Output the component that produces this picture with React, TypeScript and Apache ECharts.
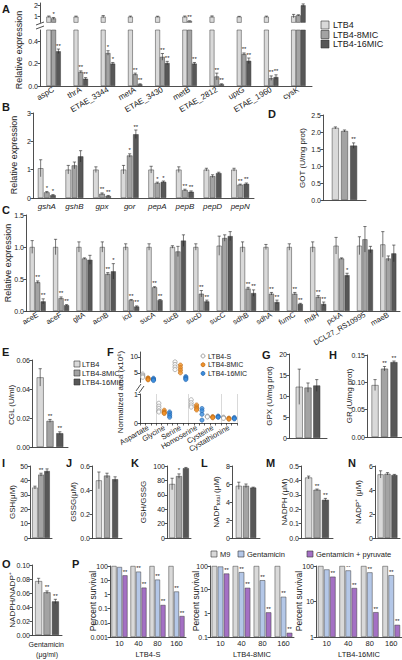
import React, { useEffect, useRef } from 'react';
import * as echarts from 'echarts';

const FONT = '"Liberation Sans", Arial, Helvetica, sans-serif';
const AX = '#222222';

// ---------- names ----------
const strainNames = ['LTB4', 'LTB4-8MIC', 'LTB4-16MIC'];
const fStrainNames = ['LTB4-S', 'LTB4-8MIC', 'LTB4-16MIC'];
const pTreatNames = ['M9', 'Gentamicin', 'Gentamicin + pyruvate'];
const grayColors = ['#d9d9d9', '#a3a3a3', '#575757'];
const pColors = ['#d9d9d9', '#b4c7e7', '#a470c4'];
const fColors = ['#ffffff', '#f0922b', '#3b8ddc'];

// ---------- Panel A ----------
const aGenes = ['aspC', 'thrA', 'ETAE_3344', 'metA', 'ETAE_3430', 'metB', 'ETAE_2812', 'uptG', 'ETAE_1960', 'cysK'];
const aLTB4 = [1.0, 1.0, 1.0, 1.0, 1.0, 1.0, 1.0, 1.0, 1.0, 1.05];
const aM8 = [0.85, 0.125, 0.295, 0.105, 0.26, 0.62, 0.085, 0.285, 0.07, 1.12];
const aM16 = [0.31, 0.065, 0.2, 0.015, 0.205, 0.2, 0.015, 0.225, 0.08, 2.0];
const aLTB4Err = [0.06, 0.05, 0.1, 0.05, 0.04, 0.06, 0.07, 0.03, 0.05, 0.15];
const aM8Err = [0.08, 0.01, 0.02, 0.01, 0.03, 0.02, 0.03, 0.01, 0.02, 0.05];
const aM16Err = [0.02, 0.01, 0.01, 0.005, 0.015, 0.01, 0.005, 0.025, 0.02, 0.12];
const aM8Sig = ['*', '**', '*', '**', '**', '**', '**', '**', '**', ''];
const aM16Sig = ['**', '**', '*', '**', '**', '**', '**', '**', '**', ''];

// ---------- Panel B ----------
const bGenes = ['gshA', 'gshB', 'gpx', 'gor', 'pepA', 'pepB', 'pepD', 'pepN'];
const bLTB4 = [1.05, 1.0, 1.0, 1.0, 1.0, 1.0, 1.0, 1.0];
const bM8 = [0.2, 1.15, 0.15, 1.5, 0.53, 0.28, 0.77, 0.47];
const bM16 = [0.1, 1.47, 0.07, 2.25, 0.57, 0.22, 0.88, 0.5];
const bLTB4Err = [0.3, 0.15, 0.1, 0.15, 0.12, 0.1, 0.05, 0.05];
const bM8Err = [0.03, 0.12, 0.03, 0.06, 0.03, 0.03, 0.05, 0.02];
const bM16Err = [0.02, 0.2, 0.02, 0.15, 0.03, 0.03, 0.03, 0.03];
const bM8Sig = ['*', '', '**', '*', '*', '**', '', '**'];
const bM16Sig = ['*', '', '**', '**', '*', '**', '', '**'];

// ---------- Panel C ----------
const cGenes = ['aceE', 'aceF', 'gltA', 'acnB', 'icd', 'sucA', 'sucB', 'sucD', 'sucC', 'sdhB', 'sdhA', 'fumC', 'mdH', 'pckA', 'DCL27_RS10995', 'maeB'];
const cLTB4 = [1, 1, 1, 1, 1, 1, 1, 1, 1.02, 1, 1, 1, 1, 1.02, 1.02, 1.04];
const cM8 = [0.45, 0.2, 0.82, 0.58, 0.17, 0.37, 0.93, 0.27, 1.14, 0.35, 0.27, 0.27, 0.22, 0.82, 1.12, 0.82];
const cM16 = [0.15, 0.09, 0.8, 0.62, 0.07, 0.17, 1.1, 0.15, 1.17, 0.28, 0.14, 0.11, 0.11, 0.56, 0.96, 0.9];
const cLTB4Err = [0.1, 0.12, 0.08, 0.08, 0.05, 0.05, 0.02, 0.05, 0.15, 0.08, 0.04, 0.05, 0.08, 0.13, 0.14, 0.2];
const cM8Err = [0.02, 0.02, 0.01, 0.02, 0.01, 0.01, 0.08, 0.05, 0.05, 0.02, 0.02, 0.02, 0.02, 0.01, 0.2, 0.04];
const cM16Err = [0.04, 0.01, 0.07, 0.12, 0.01, 0.01, 0.09, 0.02, 0.07, 0.05, 0.03, 0.01, 0.03, 0.03, 0.05, 0.13];
const cM8Sig = ['**', '**', '', '**', '**', '**', '', '**', '', '**', '**', '**', '**', '', '', ''];
const cM16Sig = ['**', '**', '', '*', '**', '**', '', '**', '', '**', '**', '**', '**', '*', '', ''];

// ---------- Single-category panels (LTB4, 8MIC, 16MIC) ----------
const dGOT = [2.12, 2.03, 1.6];
const dGOTErr = [0.03, 0.03, 0.08];
const eCGL = [0.048, 0.018, 0.0095];
const eCGLErr = [0.006, 0.001, 0.001];
const gGPX = [12.2, 12.0, 12.5];
const gGPXErr = [4.2, 1.1, 1.4];
const hGR = [0.095, 0.125, 0.137];
const hGRErr = [0.01, 0.004, 0.002];
const iGSH = [35, 44, 46.5];
const iGSHErr = [1, 1, 1.5];
const jGSSG = [0.48, 0.52, 0.49];
const jGSSGErr = [0.07, 0.02, 0.02];
const kRatio = [75, 86, 97];
const kRatioErr = [8, 3, 1];
const lNADPt = [5.8, 5.8, 5.6];
const lNADPtErr = [0.4, 0.2, 0.05];
const mNADPH = [0.42, 0.335, 0.265];
const mNADPHErr = [0.01, 0.005, 0.01];
const nNADP = [5.3, 5.35, 5.25];
const nNADPErr = [0.3, 0.1, 0.05];
const oRatio = [0.077, 0.061, 0.048];
const oRatioErr = [0.004, 0.002, 0.003];
const sig3 = ['', '**', '**'];
const sig3b = ['', '*', '**'];
const sig3c = ['', '', '**'];

// ---------- Panel F ----------
const fGroups = ['Aspartate', 'Glycine', 'Serine', 'Homoserine', 'Cysteine', 'Cystathionine'];
const fS = [[4.6, 4.2, 3.9, 3.6], [0.68, 0.58, 0.5, 0.42, 0.38], [8.4, 7.6, 6.8, 6.0], [0.8, 0.7, 0.62, 0.55], [0.24, 0.22, 0.21], [0.2, 0.18, 0.16]];
const f8 = [[3.4, 3.2, 3.0, 2.8], [0.44, 0.38, 0.35, 0.33], [7.4, 6.6, 5.8, 5.0], [0.62, 0.55, 0.5, 0.45], [0.22, 0.2, 0.18], [0.17, 0.15, 0.13]];
const f16 = [[3.3, 3.0, 2.8, 2.6], [0.38, 0.32, 0.26, 0.2], [3.8, 3.5, 3.2, 2.9], [0.5, 0.42, 0.3, 0.1], [0.24, 0.21, 0.2], [0.19, 0.16, 0.14]];

// ---------- Panel P ----------
const pDoses = ['10', '40', '80', '160'];
const pS_M9 = [100, 100, 100, 100];
const pS_Gen = [85, 40, 11, 1.6];
const pS_Pyr = [22, 3, 0.18, 0.03];
const p8_M9 = [100, 100, 100, 100];
const p8_Gen = [95, 55, 25, 5];
const p8_Pyr = [48, 12, 1.1, 0.15];
const p16_M9 = [100, 100, 100, 100];
const p16_Gen = [80, 75, 66, 55];
const p16_Pyr = [50, 24, 5, 2.2];
const pGenSig = ['', '**', '**', '**'];
const pPyrSig = ['**', '**', '**', '**'];

function buildOption() {
  const opt: any = {
    animation: false,
    backgroundColor: '#ffffff',
    textStyle: { fontFamily: FONT },
    grid: [],
    xAxis: [],
    yAxis: [],
    series: [],
  };
  const els: any[] = [];

  const addGrid = (left: number, top: number, width: number, height: number) => {
    opt.grid.push({ left, top, width, height, show: false });
    return opt.grid.length - 1;
  };

  const yAxisDef = (gi: number, y: any) => {
    const cv = y.custom ? { customValues: y.custom } : {};
    return {
      type: 'value',
      gridIndex: gi,
      position: 'left',
      min: y.min,
      max: y.max,
      interval: y.interval,
      splitLine: { show: false },
      axisLine: { show: true, lineStyle: { color: AX, width: 0.8 } },
      axisTick: { show: true, length: 2.5, lineStyle: { color: AX, width: 0.8 }, ...cv },
      axisLabel: { fontSize: 7, margin: 2, color: AX, fontFamily: FONT, formatter: y.fmt, ...cv },
    };
  };

  const errSeries = (xi: number, yi: number, vals: number[], errs: any, sigs: any, off: number, tf: any, cap: number) => ({
    type: 'custom',
    xAxisIndex: xi,
    yAxisIndex: yi,
    clip: true,
    silent: true,
    z: 5,
    data: vals.map((v, i) => {
      const e = errs ? errs[i] : 0;
      return [i, tf(v), tf(v + e), tf(v - e > 0 ? v - e : v)];
    }),
    renderItem: (params: any, api: any) => {
      const i = api.value(0);
      const cs = params.coordSys;
      const pv = api.coord([i, api.value(1)]);
      const pt = api.coord([i, api.value(2)]);
      const pb = api.coord([i, api.value(3)]);
      const x = pv[0] + off;
      const ch: any[] = [];
      const ls = { stroke: '#222', lineWidth: 0.6 };
      const bottom = cs.y + cs.height;
      if (errs && errs[params.dataIndex] > 0 && pb[1] > cs.y && pt[1] < bottom) {
        const y1 = Math.max(pt[1], cs.y);
        const y2 = Math.min(pb[1], bottom);
        ch.push({ type: 'line', shape: { x1: x, y1, x2: x, y2 }, style: ls });
        if (pt[1] >= cs.y) ch.push({ type: 'line', shape: { x1: x - cap, y1: pt[1], x2: x + cap, y2: pt[1] }, style: ls });
      }
      const s = sigs ? sigs[params.dataIndex] : '';
      if (s && pt[1] - 5 >= cs.y - 2 && pt[1] <= bottom) {
        ch.push({
          type: 'text', x, y: pt[1] - 0.5,
          style: { text: s, fontSize: 6, fontFamily: FONT, fill: '#222', align: 'center', verticalAlign: 'bottom', textAlign: 'center', textVerticalAlign: 'bottom' },
        });
      }
      return { type: 'group', children: ch };
    },
  });

  const barPanel = (p: any) => {
    const gi = addGrid(p.left, p.top, p.width, p.height);
    const xi = opt.xAxis.length;
    opt.xAxis.push({
      type: 'category',
      gridIndex: gi,
      position: 'bottom',
      data: p.cats,
      axisLine: { show: p.xLine !== false, lineStyle: { color: AX, width: 0.8 } },
      axisTick: { show: false },
      axisLabel: p.xl
        ? { show: true, interval: 0, rotate: p.xl.rotate || 0, fontSize: p.xl.size || 7.5, fontStyle: p.xl.italic ? 'italic' : 'normal', margin: p.xl.margin ?? 3, color: AX, fontFamily: FONT }
        : { show: false },
    });
    const yi = opt.yAxis.length;
    opt.yAxis.push(yAxisDef(gi, p.y));
    const tf = p.tf || ((v: number) => v);
    const n = p.vals.length;
    p.vals.forEach((vals: number[], s: number) => {
      opt.series.push({
        type: 'bar', name: p.names[s], xAxisIndex: xi, yAxisIndex: yi,
        data: vals.map(tf), barWidth: p.bw, barGap: p.gap * 100 + '%', clip: true, silent: true,
        itemStyle: { color: p.colors[s], borderColor: '#3a3a3a', borderWidth: 0.5 },
      });
    });
    p.vals.forEach((vals: number[], s: number) => {
      const off = (s - (n - 1) / 2) * p.bw * (1 + p.gap);
      const errs = p.errs ? p.errs[s] : null;
      const sigs = p.sigs ? p.sigs[s] : null;
      if (!errs && !sigs) return;
      opt.series.push(errSeries(xi, yi, vals, errs, sigs, off, tf, p.cap || 1.6));
    });
  };

  const txt = (text: string, x: number, y: number, size: number, extra: any = {}) => ({
    type: 'text', x, y, silent: true,
    style: { text, fontSize: size, fontFamily: FONT, fill: '#1a1a1a', align: 'left', verticalAlign: 'middle', textAlign: 'left', textVerticalAlign: 'middle', ...extra },
  });
  const yTitle = (text: string, x: number, y: number, size = 8, rich?: any) => ({
    type: 'text', x, y, rotation: Math.PI / 2, silent: true,
    style: { text, fontSize: size, fontFamily: FONT, fill: '#1a1a1a', align: 'center', verticalAlign: 'middle', textAlign: 'center', textVerticalAlign: 'middle', rich },
  });
  const panelLabel = (t: string, x: number, y: number) =>
    txt(t, x, y, 11, { fontWeight: 'bold', verticalAlign: 'top', textVerticalAlign: 'top' });
  const lineEl = (x1: number, y1: number, x2: number, y2: number, w = 0.8) => ({
    type: 'line', silent: true, shape: { x1, y1, x2, y2 }, style: { stroke: AX, lineWidth: w },
  });
  const legendBox = (x: number, y: number, size: number, color: string) => ({
    type: 'rect', silent: true, shape: { x, y: y - size / 2, width: size, height: size }, style: { fill: color, stroke: '#333', lineWidth: 0.6 },
  });

  const f1 = (v: number) => v.toFixed(1);
  const f2 = (v: number) => v.toFixed(2);
  const f0 = (v: number) => String(Math.round(v));

  // ===== A =====
  const aVals = [aLTB4, aM8, aM16];
  const aErrs = [aLTB4Err, aM8Err, aM16Err];
  const aSigs = [null, aM8Sig, aM16Sig];
  barPanel({
    left: 40, top: 3, width: 272, height: 19.4, cats: aGenes, vals: aVals, errs: aErrs, sigs: aSigs,
    names: strainNames, colors: grayColors, xLine: false,
    y: { min: 0.5, max: 2.2, custom: [1, 2], fmt: f0 }, bw: 4.8, gap: 0,
  });
  barPanel({
    left: 40, top: 30, width: 272, height: 56, cats: aGenes, vals: aVals, errs: aErrs, sigs: aSigs,
    names: strainNames, colors: grayColors,
    xl: { rotate: 30, size: 8, margin: 3 },
    y: { min: 0, max: 0.5, custom: [0, 0.2, 0.4], fmt: f1 }, bw: 4.8, gap: 0,
  });
  els.push(lineEl(36, 25, 44, 22), lineEl(36, 29, 44, 26));
  els.push(yTitle('Relative expression', 19, 50, 9));
  els.push(panelLabel('A', 2, 3));
  strainNames.forEach((nm, i) => {
    els.push(legendBox(321, 25 + i * 9.5, 8, grayColors[i]));
    els.push(txt(nm, 333, 25 + i * 9.5, 9));
  });

  // ===== B =====
  barPanel({
    left: 33, top: 113, width: 221, height: 85, cats: bGenes,
    vals: [bLTB4, bM8, bM16], errs: [bLTB4Err, bM8Err, bM16Err], sigs: [null, bM8Sig, bM16Sig],
    names: strainNames, colors: grayColors,
    xl: { italic: true, size: 8, margin: 4 },
    y: { min: 0, max: 3, interval: 1, fmt: f0 }, bw: 5.5, gap: 0.12,
  });
  els.push(yTitle('Relative expression', 14, 155, 9));
  els.push(panelLabel('B', 2, 101));

  // ===== D =====
  const one = (arr: any[]) => arr.map((v) => [v]);
  barPanel({
    left: 323, top: 115, width: 43, height: 85, cats: ['GOT'],
    vals: one(dGOT), errs: one(dGOTErr), sigs: one(sig3c),
    names: strainNames, colors: grayColors,
    y: { min: 0, max: 2.5, interval: 0.5, fmt: f1 }, bw: 7, gap: 0.3,
  });
  els.push(yTitle('GOT (U/mg prot)', 302, 158, 8));
  els.push(panelLabel('D', 268, 108));

  // ===== C =====
  barPanel({
    left: 26, top: 215, width: 374, height: 96, cats: cGenes,
    vals: [cLTB4, cM8, cM16], errs: [cLTB4Err, cM8Err, cM16Err], sigs: [null, cM8Sig, cM16Sig],
    names: strainNames, colors: grayColors,
    xl: { rotate: 30, size: 7.5, margin: 3 },
    y: { min: 0, max: 1.5, interval: 0.5, fmt: f1 }, bw: 5, gap: 0.1,
  });
  els.push(yTitle('Relative expression', 8, 263, 9));
  els.push(panelLabel('C', 2, 204));

  // ===== E =====
  barPanel({
    left: 32, top: 360, width: 36, height: 87, cats: ['CGL'],
    vals: one(eCGL), errs: one(eCGLErr), sigs: one(sig3),
    names: strainNames, colors: grayColors,
    y: { min: 0, max: 0.06, interval: 0.02, fmt: f2 }, bw: 7, gap: 0.4,
  });
  els.push(yTitle('CGL (U/ml)', 11, 405, 8));
  els.push(panelLabel('E', 2, 346));
  strainNames.forEach((nm, i) => {
    els.push(legendBox(74, 364 + i * 9, 6, grayColors[i]));
    els.push(txt(nm, 82, 364 + i * 9, 7.5));
  });

  // ===== F =====
  const fSub = fGroups.flatMap((g) => fStrainNames.map((s) => g + ' ' + s));
  const fData = [fS, f8, f16];
  const gTop = addGrid(140, 352, 97, 30.4);
  const gBot = addGrid(140, 394, 97, 29);
  const xTopF = opt.xAxis.length;
  opt.xAxis.push({ type: 'category', gridIndex: gTop, position: 'bottom', data: fSub, show: false });
  const xBotF = opt.xAxis.length;
  opt.xAxis.push({
    type: 'category', gridIndex: gBot, position: 'bottom', data: fSub,
    axisLine: { show: true, lineStyle: { color: AX, width: 0.8 } },
    axisTick: { show: true, length: 2.5, interval: 0, lineStyle: { color: AX, width: 0.7 } },
    axisLabel: { show: false },
  });
  opt.xAxis.push({
    type: 'category', gridIndex: gBot, position: 'bottom', offset: 0, data: fGroups,
    axisLine: { show: false }, axisTick: { show: false },
    splitLine: { show: true, interval: (i: number) => i % 2 === 1, lineStyle: { color: '#cfcfcf', width: 0.8 } },
    axisLabel: { show: true, interval: 0, rotate: 30, fontSize: 7.5, margin: 4, color: AX, fontFamily: FONT },
  });
  const yTopF = opt.yAxis.length;
  opt.yAxis.push(yAxisDef(gTop, { min: 2, max: 11.5, custom: [5, 10], fmt: f0 }));
  const yBotF = opt.yAxis.length;
  opt.yAxis.push(yAxisDef(gBot, { min: 0, max: 1, interval: 1, fmt: f0 }));
  fData.forEach((grp, s) => {
    const pts: any[] = [];
    grp.forEach((reps, g) => reps.forEach((v) => pts.push([g * 3 + s, v])));
    const style = {
      color: fColors[s],
      borderColor: s === 0 ? '#808080' : s === 1 ? '#b8640f' : '#1f5fa8',
      borderWidth: 0.7,
    };
    [[xTopF, yTopF], [xBotF, yBotF]].forEach(([xi, yi]) => {
      opt.series.push({
        type: 'scatter', name: fStrainNames[s], xAxisIndex: xi, yAxisIndex: yi, data: pts,
        symbol: 'circle', symbolSize: 4.2, clip: true, silent: true, itemStyle: style,
      });
    });
  });
  els.push(lineEl(136, 391, 141, 384), lineEl(139, 393, 144, 386));
  els.push(yTitle('Normalized area (x10\u2076)', 120, 392, 8));
  els.push(panelLabel('F', 107, 346));
  fStrainNames.forEach((nm, i) => {
    els.push({
      type: 'circle', silent: true, shape: { cx: 203, cy: 356 + i * 8.7, r: 2 },
      style: { fill: fColors[i], stroke: i === 0 ? '#808080' : i === 1 ? '#b8640f' : '#1f5fa8', lineWidth: 0.7 },
    });
    els.push(txt(nm, 208, 356 + i * 8.7, 7));
  });

  // ===== G =====
  barPanel({
    left: 289, top: 354, width: 38, height: 84, cats: ['GPX'],
    vals: one(gGPX), errs: one(gGPXErr),
    names: strainNames, colors: grayColors,
    y: { min: 0, max: 20, interval: 5, fmt: f0 }, bw: 7, gap: 0.25,
  });
  els.push(yTitle('GPX (U/mg prot)', 269, 396, 8));
  els.push(panelLabel('G', 262, 349));

  // ===== H =====
  barPanel({
    left: 367, top: 355, width: 35, height: 82, cats: ['GR'],
    vals: one(hGR), errs: one(hGRErr), sigs: one(sig3),
    names: strainNames, colors: grayColors,
    y: { min: 0, max: 0.15, interval: 0.05, fmt: f2 }, bw: 7, gap: 0.35,
  });
  els.push(yTitle('GR (U/mg prot)', 349, 396, 8));
  els.push(panelLabel('H', 329, 349));

  // ===== I - N =====
  const rowTop = 466, rowH = 72;
  barPanel({
    left: 30, top: rowTop, width: 22, height: rowH, cats: ['GSH'],
    vals: one(iGSH), errs: one(iGSHErr), sigs: one(sig3),
    names: strainNames, colors: grayColors,
    y: { min: 0, max: 50, interval: 10, fmt: f0 }, bw: 5.5, gap: 0.1,
  });
  els.push(yTitle('GSH(\u03bcM)', 12, 502, 8));
  els.push(panelLabel('I', 2, 457));

  barPanel({
    left: 92, top: rowTop, width: 30, height: rowH, cats: ['GSSG'],
    vals: one(jGSSG), errs: one(jGSSGErr),
    names: strainNames, colors: grayColors,
    y: { min: 0, max: 0.6, interval: 0.2, fmt: f1 }, bw: 6, gap: 0.35,
  });
  els.push(yTitle('GSSG(\u03bcM)', 73, 502, 8));
  els.push(panelLabel('J', 66, 457));

  barPanel({
    left: 167, top: rowTop, width: 24, height: rowH, cats: ['GSH/GSSG'],
    vals: one(kRatio), errs: one(kRatioErr), sigs: one(sig3b),
    names: strainNames, colors: grayColors,
    y: { min: 0, max: 100, interval: 20, fmt: f0 }, bw: 6, gap: 0.15,
  });
  els.push(yTitle('GSH/GSSG', 143, 502, 8));
  els.push(panelLabel('K', 131, 457));

  barPanel({
    left: 232, top: rowTop, width: 28, height: rowH, cats: ['NADPt'],
    vals: one(lNADPt), errs: one(lNADPtErr),
    names: strainNames, colors: grayColors,
    y: { min: 0, max: 8, interval: 2, fmt: f0 }, bw: 6, gap: 0.2,
  });
  els.push(yTitle('{a|NADP}{b|total}{a| (\u03bcM)}', 216, 502, 8, {
    a: { fontSize: 8, fontFamily: FONT, fill: '#1a1a1a' },
    b: { fontSize: 5.5, fontFamily: FONT, fill: '#1a1a1a', verticalAlign: 'bottom', padding: [4, 0, 0, 0] },
  }));
  els.push(panelLabel('L', 201, 457));

  barPanel({
    left: 301, top: rowTop, width: 32, height: rowH, cats: ['NADPH'],
    vals: one(mNADPH), errs: one(mNADPHErr), sigs: one(sig3),
    names: strainNames, colors: grayColors,
    y: { min: 0, max: 0.5, interval: 0.1, fmt: f1 }, bw: 7, gap: 0.2,
  });
  els.push(yTitle('NADPH (\u03bcM)', 284, 502, 8));
  els.push(panelLabel('M', 266, 457));

  barPanel({
    left: 375, top: rowTop, width: 25, height: rowH, cats: ['NADP+'],
    vals: one(nNADP), errs: one(nNADPErr),
    names: strainNames, colors: grayColors,
    y: { min: 0, max: 6, interval: 2, fmt: f0 }, bw: 6, gap: 0.15,
  });
  els.push(yTitle('NADP\u207a (\u03bcM)', 358, 502, 8));
  els.push(panelLabel('N', 348, 457));

  // ===== O =====
  barPanel({
    left: 32, top: 565, width: 30, height: 70, cats: ['ratio'],
    vals: one(oRatio), errs: one(oRatioErr), sigs: one(sig3),
    names: strainNames, colors: grayColors,
    y: { min: 0, max: 0.1, interval: 0.02, fmt: f2 }, bw: 7, gap: 0.2,
  });
  els.push(yTitle('NADPH/NADP\u207a', 12, 600, 8));
  els.push(panelLabel('O', 2, 558));

  // ===== P =====
  const pPanel = (left: number, width: number, lo: number, vals: number[][], bw: number) => {
    const tf = (v: number) => Math.log10(v) - lo;
    barPanel({
      left, top: 566, width, height: 71, cats: pDoses,
      vals, sigs: [null, pGenSig, pPyrSig], tf,
      names: pTreatNames, colors: pColors,
      xl: { size: 7.5, margin: 2 },
      y: {
        min: 0, max: 2 - lo, interval: 1,
        fmt: (v: number) => {
          const r = Math.pow(10, v + lo);
          return r >= 1 ? String(Math.round(r)) : String(+r.toPrecision(1));
        },
      },
      bw, gap: 0.1,
    });
  };
  pPanel(110, 76, -3, [pS_M9, pS_Gen, pS_Pyr], 5);
  pPanel(210, 84, -1, [p8_M9, p8_Gen, p8_Pyr], 5.5);
  pPanel(316, 86, 0, [p16_M9, p16_Gen, p16_Pyr], 5.5);
  els.push(yTitle('Percent survival', 93, 601, 8.5));
  els.push(yTitle('Percent survival', 196, 601, 8.5));
  els.push(yTitle('Percent survival', 299, 601, 8.5));
  els.push(panelLabel('P', 72, 558));
  els.push(txt('Gentamicin', 64, 644, 7, { align: 'right', textAlign: 'right' }));
  els.push(txt('(\u03bcg/ml)', 47, 654, 7, { align: 'center', textAlign: 'center' }));
  els.push(txt('LTB4-S', 148, 654, 7.5, { align: 'center', textAlign: 'center' }));
  els.push(txt('LTB4-8MIC', 252, 654, 7.5, { align: 'center', textAlign: 'center' }));
  els.push(txt('LTB4-16MIC', 359, 654, 7.5, { align: 'center', textAlign: 'center' }));
  const pLeg = [[211, 220], [238, 247], [307, 316]];
  pTreatNames.forEach((nm, i) => {
    els.push(legendBox(pLeg[i][0], 554, 6, pColors[i]));
    els.push(txt(nm, pLeg[i][1], 554, 7.5));
  });

  opt.graphic = { elements: els };
  return opt;
}

export default function App() {
  const ref = useRef<HTMLDivElement>(null);
  useEffect(() => {
    if (!ref.current) return;
    const chart = echarts.init(ref.current, null, { renderer: 'svg', width: 402, height: 660 });
    chart.setOption(buildOption());
    return () => chart.dispose();
  }, []);
  return (
    <div
      ref={ref}
      style={{ position: 'absolute', left: 0, top: 0, width: 402, height: 660, background: '#ffffff' }}
    />
  );
}
